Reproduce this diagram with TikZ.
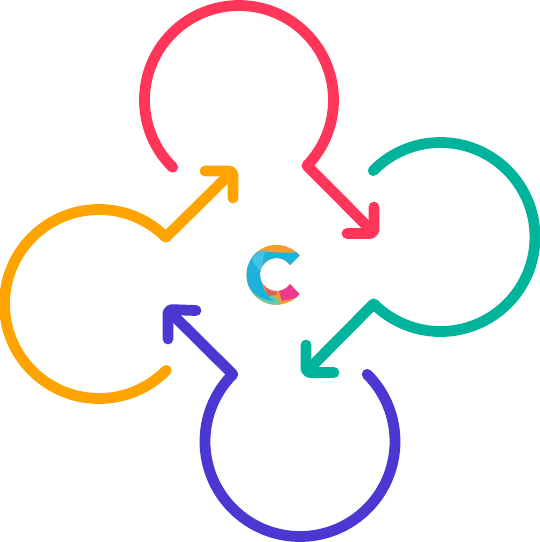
\documentclass[tikz,border=0pt]{standalone}
\definecolor{cred}{HTML}{FF3659}
\definecolor{cgreen}{HTML}{00B49C}
\definecolor{cpurple}{HTML}{4B38D2}
\definecolor{corange}{HTML}{FFA300}
\definecolor{lblue}{HTML}{1CB2DC}
\definecolor{lsky}{HTML}{45C2E4}
\definecolor{lorange}{HTML}{F99D2A}
\definecolor{lpink}{HTML}{EE3A8E}
\definecolor{lgreen}{HTML}{6CC9A1}
\definecolor{lmauve}{HTML}{D9655F}
\tikzset{loopline/.style={line width=10.8pt,line cap=round,line join=round},
  headline/.style={loopline,rounded corners=4pt}}
\begin{document}
\begin{tikzpicture}[x=1pt,y=-1pt]
\useasboundingbox (0,0) rectangle (540,542);
% red
\draw[loopline,cred] (239,100) ++(134.6:94.5) arc[start angle=134.6,end angle=404,radius=94.5] -- (372,231);
\draw[headline,cred] (374,207) -- (374,233.5) -- (347,233.5);
% green
\draw[loopline,cgreen] (440.5,237) ++(224.6:94.5) arc[start angle=224.6,end angle=495,radius=94.5] -- (308,370);
\draw[headline,cgreen] (306,345) -- (306,372.5) -- (334,372.5);
% purple
\draw[loopline,cpurple] (300,441.5) ++(315:95) arc[start angle=315,end angle=585,radius=95] -- (170,312);
\draw[headline,cpurple] (196,310.5) -- (168,309.5) -- (168,339);
% orange
\draw[loopline,corange] (99,304) ++(44.6:94.5) arc[start angle=44.6,end angle=315,radius=94.5] -- (231,173);
\draw[headline,corange] (205,171) -- (233,171) -- (233,198);
% logo
\begin{scope}
\clip (299.5,255.5) arc[start angle=-40,end angle=-320,radius=30] -- (290,284) arc[start angle=35,end angle=325,radius=16.5] -- cycle;
\fill[lorange] (240,240) rectangle (310,310);
\fill[lgreen] (245,280) -- (280,300) -- (280,310) -- (245,310) -- cycle;
\fill[lblue] (262,251) .. controls (285,254) and (295,252) .. (305,252) -- (300,268) -- (280,268) -- (262,278) .. controls (262,288) and (266,295) .. (274,301) .. controls (258,300) and (247,290) .. (245,275) .. controls (245,262) and (252,252) .. (262,251) -- cycle;
\fill[lsky] (252,260) .. controls (254,254) and (259,251) .. (267,250) .. controls (262,256) and (262,264) .. (263,274) .. controls (259,270) and (256,266) .. (252,260) -- cycle;
\fill[lmauve] (262,280) -- (277,285) -- (277,295) -- (268,296) -- cycle;
\fill[lpink] (277,284) -- (305,280) -- (305,296) -- (282,301) .. controls (280,296) and (279,290) .. (277,284) -- cycle;
\end{scope}
\end{tikzpicture}
\end{document}
